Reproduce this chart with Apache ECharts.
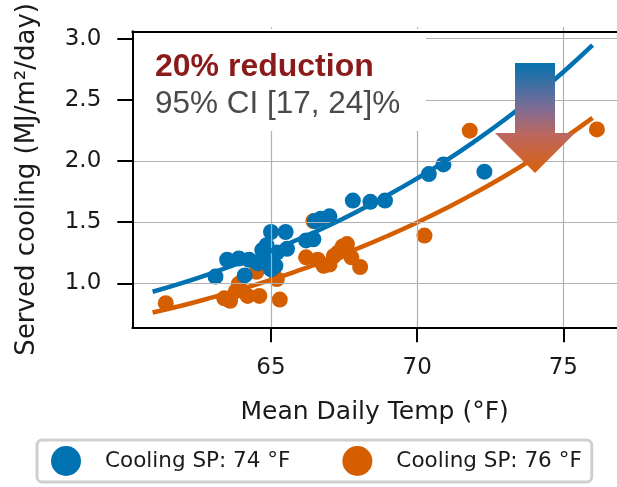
<!DOCTYPE html>
<html>
<head>
<meta charset="utf-8">
<script src="https://cdn.jsdelivr.net/npm/echarts@6/dist/echarts.min.js"></script>
<style>
html,body{margin:0;padding:0;background:#fff;}
#chart{width:617px;height:487px;}
</style>
</head>
<body>
<div id="chart"></div>
<script>
// ---- data ----
var seriesNames = ['Cooling SP: 74 °F', 'Cooling SP: 76 °F'];
var xTicks = [65, 70, 75];
var yTicks = [1.0, 1.5, 2.0, 2.5, 3.0];

var sp74Points = [
  [63.1, 1.06], [63.5, 1.20], [63.9, 1.21], [64.1, 1.07], [64.25, 1.20],
  [64.55, 1.17], [64.7, 1.28], [64.85, 1.32], [64.9, 1.22], [65.0, 1.43],
  [65.0, 1.12], [65.15, 1.15], [65.2, 1.26], [65.5, 1.43], [65.55, 1.29],
  [66.2, 1.36], [66.45, 1.37], [66.5, 1.52], [66.7, 1.54], [67.0, 1.56],
  [67.8, 1.69], [68.4, 1.68], [68.9, 1.69], [70.4, 1.91], [70.9, 1.99],
  [72.3, 1.93]
];
var sp76Points = [
  [61.4, 0.84], [63.4, 0.88], [63.6, 0.86], [63.8, 0.94], [63.9, 1.00],
  [64.2, 0.90], [64.5, 1.10], [64.6, 0.90], [65.2, 1.04], [65.3, 0.87],
  [66.2, 1.22], [66.45, 1.52], [66.6, 1.20], [66.8, 1.15], [67.0, 1.16],
  [67.15, 1.23], [67.3, 1.26], [67.45, 1.31], [67.6, 1.33], [67.75, 1.22],
  [68.05, 1.14], [70.25, 1.40], [71.8, 2.27], [76.15, 2.28]
];
var fitTemps = [60.95, 62, 63, 64, 65, 66, 67, 68, 69, 70, 71, 72, 73, 74, 75, 76];
var fit74 = [0.935, 1.010, 1.092, 1.179, 1.274, 1.376, 1.486, 1.606, 1.735, 1.874, 2.024, 2.187, 2.362, 2.552, 2.756, 2.978];
var fit76 = [0.763, 0.823, 0.888, 0.958, 1.033, 1.115, 1.202, 1.297, 1.399, 1.509, 1.628, 1.756, 1.894, 2.043, 2.203, 2.376];
var reductionText = '20% reduction';
var ciText = '95% CI [17, 24]%';

// ---- layout ----
var BLUE = '#0072B2', ORANGE = '#D55E00';
var W = 617, H = 487;
var plotL = 132.3, plotT = 27.3, plotR = 617, plotB = 327.3;
var xMin = 60.255, xMax = 76.837, yMin = 0.64, yMax = 3.093;
var xStep = xTicks[1] - xTicks[0], yStep = yTicks[1] - yTicks[0];
var xFirst = xTicks[0], xLast = xTicks[xTicks.length - 1];
var yFirst = yTicks[0], yLast = yTicks[yTicks.length - 1];
var pxX = (plotR - plotL) / (xMax - xMin), pxY = (plotB - plotT) / (yMax - yMin);
// helper grids whose edges sit exactly on the first/last tick of the data scale
var gxLeft = plotL + (xFirst - xMin) * pxX, gxRight = W - (plotL + (xLast - xMin) * pxX);
var gyTop = plotB - (yLast - yMin) * pxY, gyBottom = H - (plotB - (yFirst - yMin) * pxY);

function zipXY(xs, ys) { return xs.map(function (x, i) { return [x, ys[i]]; }); }

var chart = echarts.init(document.getElementById('chart'), null, {renderer: 'canvas'});
var tickFont = {fontFamily: 'DejaVu Sans', fontSize: 23, color: '#1a1a1a'};
var blackLine = {show: true, onZero: false, lineStyle: {color: '#000', width: 2}};
var gridLine = {show: true, lineStyle: {color: '#b0b0b0', width: 1.2}};
var tickStyle = {show: true, inside: false, length: 15, lineStyle: {color: '#000', width: 2}};
var off = {show: false};

var option = {
  animation: false,
  grid: [
    {left: plotL, top: plotT, right: W - plotR, bottom: H - plotB},
    {left: gxLeft, top: plotT, right: gxRight, bottom: H - plotB},
    {left: plotL, top: gyTop, right: W - plotR, bottom: gyBottom}
  ],
  xAxis: [
    {gridIndex: 0, type: 'value', position: 'bottom', min: xMin, max: xMax, z: 100,
     name: 'Mean Daily Temp (°F)', nameLocation: 'middle', nameGap: 73,
     nameTextStyle: {fontFamily: 'DejaVu Sans', fontSize: 25, color: '#1a1a1a'},
     axisLine: blackLine, axisTick: off, axisLabel: off, splitLine: off},
    {gridIndex: 0, type: 'value', position: 'top', min: xMin, max: xMax, z: 100,
     axisLine: blackLine, axisTick: off, axisLabel: off, splitLine: off},
    {gridIndex: 1, type: 'value', position: 'bottom', min: xFirst, max: xLast, interval: xStep, z: 5,
     axisLine: off, axisTick: tickStyle,
     axisLabel: Object.assign({margin: 29}, tickFont), splitLine: gridLine},
    {gridIndex: 2, type: 'value', min: 0, max: 1, show: false}
  ],
  yAxis: [
    {gridIndex: 0, type: 'value', position: 'left', min: yMin, max: yMax, z: 100,
     name: 'Served cooling (MJ/m²/day)', nameLocation: 'middle', nameGap: 92,
     nameTextStyle: {fontFamily: 'DejaVu Sans', fontSize: 26, color: '#1a1a1a'},
     axisLine: blackLine, axisTick: off, axisLabel: off, splitLine: off},
    {gridIndex: 1, type: 'value', min: 0, max: 1, show: false},
    {gridIndex: 2, type: 'value', position: 'left', min: yFirst, max: yLast, interval: yStep, z: 5,
     axisLine: off, axisTick: tickStyle,
     axisLabel: Object.assign({margin: 31, formatter: function (v) { return v.toFixed(1); }}, tickFont),
     splitLine: gridLine}
  ],
  legend: {
    data: seriesNames,
    left: 37, top: 440, orient: 'horizontal',
    itemWidth: 30, itemHeight: 30, itemGap: 52,
    padding: [6, 10, 6, 14],
    borderColor: '#cfcfcf', borderWidth: 3, borderRadius: 5, backgroundColor: '#fff',
    textStyle: {fontFamily: 'DejaVu Sans', fontSize: 21.5, color: '#1a1a1a', padding: [0, 0, 0, 19]}
  },
  series: [
    {name: seriesNames[1], type: 'scatter', xAxisIndex: 0, yAxisIndex: 0, data: sp76Points,
     symbol: 'circle', symbolSize: 16, z: 2, itemStyle: {color: ORANGE, opacity: 1}, emphasis: {disabled: true}},
    {name: seriesNames[0], type: 'scatter', xAxisIndex: 0, yAxisIndex: 0, data: sp74Points,
     symbol: 'circle', symbolSize: 16, z: 3, itemStyle: {color: BLUE, opacity: 1}, emphasis: {disabled: true}},
    {name: 'fit76', type: 'line', xAxisIndex: 0, yAxisIndex: 0, data: zipXY(fitTemps, fit76), smooth: true,
     showSymbol: false, z: 4, lineStyle: {color: ORANGE, width: 4.5}, itemStyle: {color: ORANGE}, emphasis: {disabled: true}},
    {name: 'fit74', type: 'line', xAxisIndex: 0, yAxisIndex: 0, data: zipXY(fitTemps, fit74), smooth: true,
     showSymbol: false, z: 5, lineStyle: {color: BLUE, width: 4.5}, itemStyle: {color: BLUE}, emphasis: {disabled: true}}
  ],
  graphic: [
    {type: 'rect', z: 50, shape: {x: 134, y: 29, width: 292, height: 102}, style: {fill: '#ffffff'}},
    {type: 'text', z: 51, x: 155, y: 67, style: {text: reductionText, fontFamily: 'Liberation Sans', fontWeight: 'bold', fontSize: 32, fill: '#8B1A1A', verticalAlign: 'middle', align: 'left'}},
    {type: 'text', z: 51, x: 155, y: 104, style: {text: ciText, fontFamily: 'Liberation Sans', fontSize: 31.5, fill: '#4a4a4a', verticalAlign: 'middle', align: 'left'}},
    {type: 'polygon', z: 60,
     shape: {points: [[515, 63], [555, 63], [555, 133], [575, 133], [535, 173], [495, 133], [515, 133]]},
     style: {fill: new echarts.graphic.LinearGradient(0, 0, 0, 1, [
       {offset: 0, color: '#0672b0'}, {offset: 0.4, color: '#7a6c96'},
       {offset: 0.65, color: '#bd6760'}, {offset: 1, color: '#d8600c'}])}}
  ]
};
chart.setOption(option);
</script>
</body>
</html>
